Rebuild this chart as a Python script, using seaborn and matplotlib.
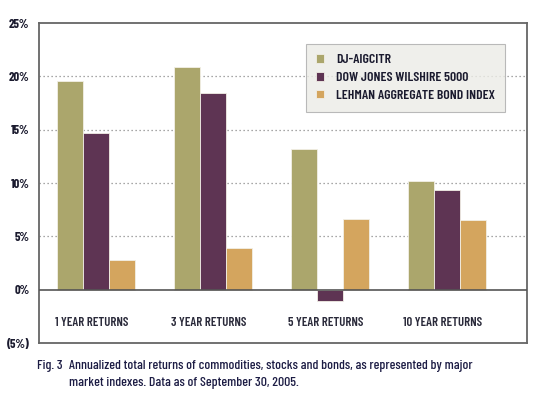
import numpy as np
import pandas as pd
import matplotlib.pyplot as plt
import seaborn as sns

# values (percent)
periods = ['1 YEAR RETURNS', '3 YEAR RETURNS', '5 YEAR RETURNS', '10 YEAR RETURNS']
series = ['DJ-AIGCITR', 'DOW JONES WILSHIRE 5000', 'LEHMAN AGGREGATE BOND INDEX']
dj_aig = [19.6, 20.9, 13.2, 10.2]
wilshire = [14.7, 18.4, -1.1, 9.3]
lehman = [2.8, 3.9, 6.6, 6.5]
yticks = [-5, 0, 5, 10, 15, 20, 25]
ytick_labels = ['(5%)', '0%', '5%', '10%', '15%', '20%', '25%']
colors = ['#aba66c', '#5e3453', '#d4a55e']

df = pd.DataFrame({
    'period': periods * 3,
    'index': [s for s in series for _ in periods],
    'ret': dj_aig + wilshire + lehman,
})

sns.set_style('white')
plt.rcParams['font.family'] = ['Barlow Condensed', 'DejaVu Sans']

fig = plt.figure(figsize=(5.47, 3.97), dpi=100)
ax = fig.add_axes([0.0713, 0.136, 0.892, 0.806])

sns.barplot(data=df, x='period', y='ret', hue='index', order=periods,
            hue_order=series, palette=colors, width=0.667, saturation=1,
            edgecolor='#f2efe6', linewidth=0.6, ax=ax, zorder=3)

ax.set_ylim(-5, 25)
ax.set_xlim(-0.487, 3.684)
ax.set_yticks(yticks)
ax.set_yticklabels(ytick_labels, fontsize=9, color='#1a1a2e', fontweight=700)
ax.tick_params(axis='y', length=0, pad=7)
ax.set_xticks([])
ax.set_xlabel('')
ax.set_ylabel('')

# dotted gridlines and zero line
for v in [5, 10, 15, 20]:
    ax.axhline(v, color='#8a8a8a', linestyle=(0, (1, 2.2)), linewidth=0.9, zorder=1)
ax.axhline(0, color='#555555', linewidth=1.2, zorder=4)

for sp in ax.spines.values():
    sp.set_color('#666666')
    sp.set_linewidth(1.3)

# category labels inside the plot below zero
for i, p in enumerate(periods):
    ax.text(i - 0.04, -3.1, p, ha='center', va='center', fontsize=9.2,
            color='#2a2a3a', fontweight=600)

leg = ax.legend(loc='upper left', bbox_to_anchor=(0.547, 0.934), frameon=True,
                fontsize=9.9, handlelength=0.55, handleheight=0.55, handletextpad=0.9,
                labelspacing=0.42, borderpad=0.75, borderaxespad=0, fancybox=False)
leg.get_frame().set_facecolor('#ececE6')
leg.get_frame().set_edgecolor('#aaaaaa')
leg.get_frame().set_linewidth(0.8)
for t in leg.get_texts():
    t.set_color('#1a1a2e')
    t.set_fontweight(600)

cap = dict(fontsize=9.9, color='#1c1c44', va='center', fontweight=500)
fig.text(0.067, 0.078, 'Fig. 3', **cap)
fig.text(0.127, 0.078,
         'Annualized total returns of commodities, stocks and bonds, as represented by major', **cap)
fig.text(0.127, 0.035, 'market indexes. Data as of September 30, 2005.', **cap)

fig.savefig('out.png', dpi=100)
